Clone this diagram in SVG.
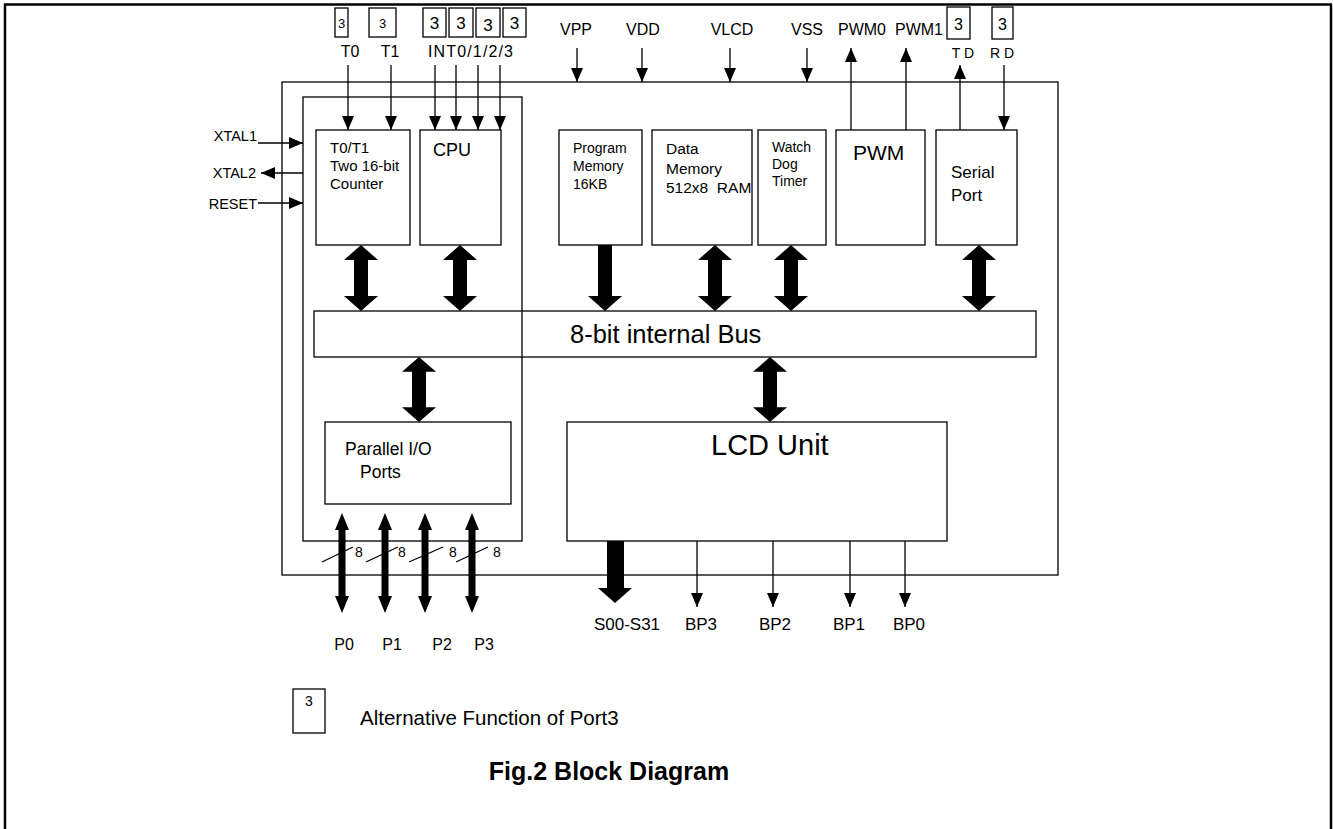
<svg xmlns="http://www.w3.org/2000/svg" xmlns:xlink="http://www.w3.org/1999/xlink" width="1333" height="829" viewBox="0 0 1333 829">
<style>
.box{fill:none;stroke:#000;stroke-width:1.3}
.ln{stroke:#000;stroke-width:1.3;fill:none}
.t{font-family:"Liberation Sans",Arial,sans-serif;fill:#000}
.thk{fill:#000;stroke:none}
</style>
<defs>
<marker id="ah" viewBox="0 0 14 12" refX="14" refY="6" markerWidth="14" markerHeight="12" markerUnits="userSpaceOnUse" orient="auto">
<path d="M0,0 L14,6 L0,12 Z" fill="#000"/>
</marker>
<path id="dbl" d="M0,0 L17,15 L7,15 L7,51 L17,51 L0,66 L-17,51 L-7,51 L-7,15 L-17,15 Z"/>
<path id="port" d="M0,0 L7,17 L3.5,17 L3.5,83 L7,83 L0,100 L-7,83 L-3.5,83 L-3.5,17 L-7,17 Z"/>
</defs>
<rect width="1333" height="829" fill="#fff"/>
<g id="frame">
<line x1="4" y1="4.5" x2="1332" y2="4.5" stroke="#000" stroke-width="2.5"/>
<line x1="5" y1="4" x2="5" y2="829" stroke="#000" stroke-width="2.5"/>
<line x1="1331" y1="4" x2="1331" y2="829" stroke="#000" stroke-width="2.5"/>
</g>
<g id="chip"><rect class="box" x="282" y="82" width="776" height="493"/></g>
<g id="bus"><rect class="box" x="314" y="311" width="722" height="46"/>
<text class="t" x="570" y="343" font-size="25.5">8-bit internal Bus</text></g>
<g id="leftgroup"><rect class="box" x="303" y="97" width="219" height="444"/></g>
<g id="timer"><rect class="box" x="316" y="130" width="94" height="115"/>
<text class="t" font-size="15"><tspan x="330" y="153">T0/T1</tspan><tspan x="330" y="171">Two 16-bit</tspan><tspan x="330" y="189">Counter</tspan></text></g>
<g id="cpu"><rect class="box" x="420" y="130" width="81" height="115"/>
<text class="t" x="433" y="156" font-size="18">CPU</text></g>
<g id="progmem"><rect class="box" x="559" y="130" width="83" height="115"/>
<text class="t" font-size="14"><tspan x="573" y="153">Program</tspan><tspan x="573" y="171">Memory</tspan><tspan x="573" y="189">16KB</tspan></text></g>
<g id="datamem"><rect class="box" x="652" y="130" width="100" height="115"/>
<text class="t" font-size="15.5" xml:space="preserve"><tspan x="666" y="154">Data</tspan><tspan x="666" y="174">Memory</tspan><tspan x="666" y="193">512x8  RAM</tspan></text></g>
<g id="wdt"><rect class="box" x="758" y="130" width="68" height="115"/>
<text class="t" font-size="14"><tspan x="772" y="152">Watch</tspan><tspan x="772" y="169">Dog</tspan><tspan x="772" y="186">Timer</tspan></text></g>
<g id="pwm"><rect class="box" x="836" y="130" width="89" height="115"/>
<text class="t" x="853" y="160" font-size="21">PWM</text></g>
<g id="serial"><rect class="box" x="936" y="130" width="81" height="115"/>
<text class="t" font-size="17"><tspan x="951" y="178">Serial</tspan><tspan x="951" y="201">Port</tspan></text></g>
<g id="pio"><rect class="box" x="325" y="422" width="186" height="82"/>
<text class="t" font-size="17.5"><tspan x="345" y="455">Parallel I/O</tspan><tspan x="360" y="478">Ports</tspan></text></g>
<g id="lcd"><rect class="box" x="567" y="422" width="380" height="119"/>
<text class="t" x="711" y="455" font-size="29">LCD Unit</text></g>
<g id="pins" class="t">
<rect class="box" x="335" y="8" width="13" height="29"/><text x="341.5" y="28" font-size="13" text-anchor="middle">3</text>
<rect class="box" x="369" y="8" width="27" height="29"/><text x="382.5" y="28" font-size="13" text-anchor="middle">3</text>
<rect class="box" x="423" y="8" width="23" height="29"/><text x="434.5" y="29" font-size="17" text-anchor="middle">3</text>
<rect class="box" x="449" y="8" width="24" height="29"/><text x="461" y="29" font-size="17" text-anchor="middle">3</text>
<rect class="box" x="476" y="8" width="24" height="29"/><text x="488" y="31" font-size="17" text-anchor="middle">3</text>
<rect class="box" x="503" y="8" width="23" height="29"/><text x="514.5" y="29" font-size="17" text-anchor="middle">3</text>
<text x="350" y="57" font-size="16" text-anchor="middle">T0</text>
<text x="390" y="57" font-size="16" text-anchor="middle">T1</text>
<text x="428" y="57" font-size="16" textLength="85" lengthAdjust="spacing">INT0/1/2/3</text>
<text x="576" y="35" font-size="16" text-anchor="middle">VPP</text>
<text x="643" y="35" font-size="16" text-anchor="middle">VDD</text>
<text x="732" y="35" font-size="16" text-anchor="middle">VLCD</text>
<text x="807" y="35" font-size="16" text-anchor="middle">VSS</text>
<text x="862" y="35" font-size="16" text-anchor="middle">PWM0</text>
<text x="919" y="35" font-size="16" text-anchor="middle">PWM1</text>
<rect class="box" x="947" y="7" width="23" height="32"/><text x="958.5" y="30" font-size="16" text-anchor="middle">3</text>
<rect class="box" x="992" y="7" width="21" height="32"/><text x="1002.5" y="30" font-size="16" text-anchor="middle">3</text>
<text x="963" y="58" font-size="14" text-anchor="middle">T D</text>
<text x="1002" y="58" font-size="14" text-anchor="middle">R D</text>
<text x="257" y="141" font-size="14.5" text-anchor="end">XTAL1</text>
<text x="256" y="178" font-size="14.5" text-anchor="end">XTAL2</text>
<text x="257" y="209" font-size="14.5" text-anchor="end">RESET</text>
<text x="344" y="650" font-size="16" text-anchor="middle">P0</text>
<text x="392" y="650" font-size="16" text-anchor="middle">P1</text>
<text x="442" y="650" font-size="16" text-anchor="middle">P2</text>
<text x="484" y="650" font-size="16" text-anchor="middle">P3</text>
<text x="355" y="557" font-size="14">8</text>
<text x="398" y="557" font-size="14">8</text>
<text x="449" y="557" font-size="14">8</text>
<text x="493" y="557" font-size="14">8</text>
<text x="627" y="630" font-size="17" text-anchor="middle">S00-S31</text>
<text x="701" y="630" font-size="17" text-anchor="middle">BP3</text>
<text x="775" y="630" font-size="17" text-anchor="middle">BP2</text>
<text x="849" y="630" font-size="17" text-anchor="middle">BP1</text>
<text x="909" y="630" font-size="17" text-anchor="middle">BP0</text>
</g>
<g id="legend" class="t">
<rect class="box" x="293" y="689" width="32" height="44"/><text x="309" y="706" font-size="14" text-anchor="middle">3</text>
<text x="360" y="725" font-size="20.5">Alternative Function of Port3</text>
</g>
<g id="title"><text class="t" x="609" y="780" font-size="25" font-weight="bold" text-anchor="middle">Fig.2 Block Diagram</text></g>
<g id="connectors">
<g class="ln" marker-end="url(#ah)">
<line x1="348" y1="65" x2="348" y2="130"/>
<line x1="391" y1="65" x2="391" y2="130"/>
<line x1="435" y1="65" x2="435" y2="130"/>
<line x1="456" y1="65" x2="456" y2="130"/>
<line x1="478" y1="65" x2="478" y2="130"/>
<line x1="500" y1="65" x2="500" y2="130"/>
<line x1="258" y1="143" x2="303" y2="143"/>
<line x1="303" y1="173" x2="261" y2="173"/>
<line x1="258" y1="203" x2="303" y2="203"/>
<line x1="577" y1="48" x2="577" y2="82"/>
<line x1="642" y1="48" x2="642" y2="82"/>
<line x1="730" y1="48" x2="730" y2="82"/>
<line x1="807" y1="48" x2="807" y2="82"/>
<line x1="851" y1="130" x2="851" y2="48"/>
<line x1="906" y1="130" x2="906" y2="48"/>
<line x1="960" y1="130" x2="960" y2="65"/>
<line x1="1004" y1="65" x2="1004" y2="130"/>
<line x1="697" y1="541" x2="697" y2="607"/>
<line x1="773" y1="541" x2="773" y2="607"/>
<line x1="850" y1="541" x2="850" y2="607"/>
<line x1="905" y1="541" x2="905" y2="607"/>
</g>
<g class="thk">
<use xlink:href="#dbl" transform="translate(361,245)"/>
<use xlink:href="#dbl" transform="translate(460,245)"/>
<use xlink:href="#dbl" transform="translate(715,245)"/>
<use xlink:href="#dbl" transform="translate(791,245)"/>
<use xlink:href="#dbl" transform="translate(979,245)"/>
<use xlink:href="#dbl" transform="translate(419,357) scale(1,0.985)"/>
<use xlink:href="#dbl" transform="translate(770,357) scale(1,0.985)"/>
<path d="M598,245 L612,245 L612,296 L622,296 L605,311 L588,296 L598,296 Z"/>
<path d="M607,541 L624,541 L624,588 L632,588 L615,603 L598,588 L607,588 Z"/>
<use xlink:href="#port" transform="translate(342,513)"/>
<use xlink:href="#port" transform="translate(385,513)"/>
<use xlink:href="#port" transform="translate(425,513)"/>
<use xlink:href="#port" transform="translate(472,513)"/>
</g>
<g class="ln">
<line x1="322" y1="562" x2="353" y2="547"/>
<line x1="366" y1="562" x2="398" y2="547"/>
<line x1="409" y1="562" x2="443" y2="547"/>
<line x1="456" y1="562" x2="488" y2="547"/>
</g>
</g>
</svg>
